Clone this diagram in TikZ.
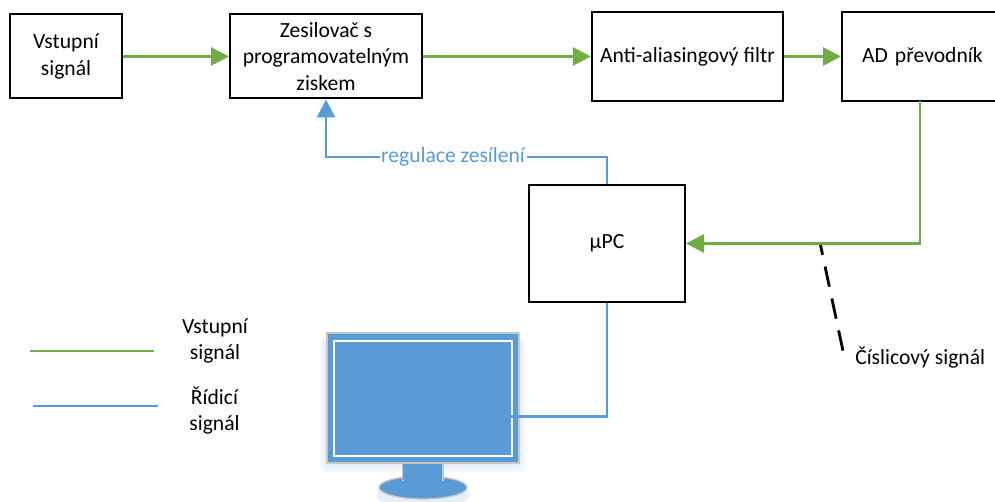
\documentclass[tikz,border=0pt]{standalone}
\usepackage{fontspec}
\setmainfont{Carlito}
\usetikzlibrary{arrows.meta,shapes.geometric}
\definecolor{sgreen}{HTML}{70AD47}
\definecolor{sblue}{HTML}{5B9BD5}
\definecolor{mgrey}{HTML}{C8C8C8}
\newcommand{\txt}{\fontsize{16.2pt}{19.8pt}\selectfont}
\tikzset{
  block/.style={draw=black,line width=1.5pt,fill=white,align=center,inner sep=0pt,font=\txt},
  lbl/.style={align=center,inner sep=0pt,font=\txt,text=black},
  greenline/.style={draw=sgreen,line width=2.1pt},
  blueline/.style={draw=sblue,line width=2.1pt},
  greenarrow/.style={greenline,-{Triangle[length=13.5pt,width=13.5pt,fill=sgreen]}},
  bluearrow/.style={blueline,-{Triangle[length=13.5pt,width=13.5pt,fill=sblue]}},
}
\begin{document}
\begin{tikzpicture}[x=0.75pt,y=-0.75pt]
\useasboundingbox (0,0) rectangle (995,502);
\clip (0,0) rectangle (995,502);
% block nodes
\node[block,minimum width=84pt,minimum height=63pt] (in) at (66,56.5) {Vstupní\\signál};
\node[block,minimum width=144pt,minimum height=63pt] (amp) at (326,56.5) {Zesilovač s\\programovatelným\\ziskem};
\node[block,minimum width=143.5pt,minimum height=67pt] (aa) at (687.5,56.5) {Anti-aliasingový filtr};
\node[block,minimum width=144pt,minimum height=67pt,text width=144pt,align=left] (ad) at (938,56.5) {\hspace*{15pt}AD převodník};
\node[block,minimum width=117pt,minimum height=88pt] (pc) at (607,243.5) {µPC};
% monitor
\foreach \g in {8,7,6,5,4,3,2,1}{
  \fill[sblue,opacity=0.022,rounded corners=4pt] (327-\g,338) rectangle (519+\g,463+\g*1.3);
}
\foreach \g in {6,5,4,3,2}{
  \fill[sblue,opacity=0.03,rounded corners=4pt] (379-\g*0.5,488) rectangle (467+\g*0.5,502);
}
\node[ellipse,fill=sblue,draw=mgrey,line width=1pt,minimum width=66pt,minimum height=17.25pt,inner sep=0pt] (base) at (423,487.5) {};
\node[fill=sblue,draw=mgrey,line width=1pt,minimum width=30.5pt,minimum height=14pt,inner sep=0pt] (neck) at (422.5,471) {};
\fill[sblue] (403.5,472) rectangle (441.5,484);
\node[fill=sblue,draw=mgrey,line width=1.2pt,minimum width=144pt,minimum height=97.5pt,inner sep=0pt] (mon) at (423,398) {};
\node[fill=sblue,draw=white,line width=1.2pt,minimum width=133.5pt,minimum height=86pt,inner sep=0pt] (scr) at (423,398.5) {};
% connectors
\draw[greenarrow] (in.east) -- (amp.west);
\draw[greenarrow] (amp.east) -- (aa.west);
\draw[greenarrow] (aa.east) -- (ad.west);
\coordinate (adout) at (920,101);
\draw[greenarrow] (adout) -- (920,243.5) -- (pc.east);
\node[fill=white,inner sep=1pt,font=\txt,text=sblue] (reg) at (453,157) {regulace zesílení};
\draw[bluearrow] (reg.west) -- (326,157) -- (amp.south);
\draw[blueline] (pc.north) -- (607,157) -- (reg.east);
\draw[blueline] (pc.south) -- (607,416.5) -- (511,416.5);
% dashed pointer
\coordinate (tap) at (820.5,245);
\node[lbl,anchor=west] (dig) at (855,358) {Číslicový signál};
\draw[black,line width=2.1pt,dash pattern=on 15.5pt off 9pt,dash phase=8pt] (tap) -- (843,351);
% legend
\coordinate (g1) at (30,351); \coordinate (g2) at (154,351);
\coordinate (b1) at (33,406); \coordinate (b2) at (158,406);
\draw[greenline] (g1) -- (g2);
\draw[blueline] (b1) -- (b2);
\node[lbl] (lg) at (215,341) {Vstupní\\signál};
\node[lbl] (lb) at (214.5,410.5) {Řídicí\\signál};
\end{tikzpicture}
\end{document}
